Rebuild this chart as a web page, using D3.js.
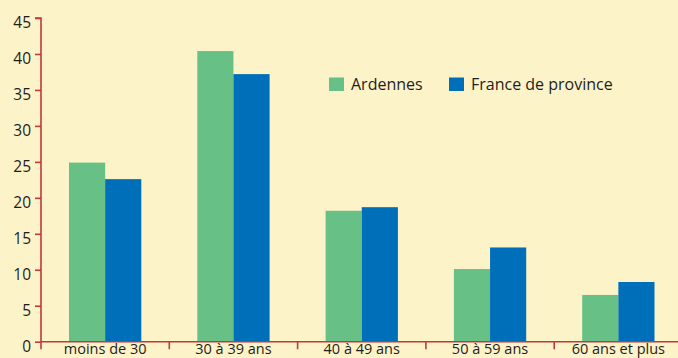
<!DOCTYPE html>
<html>
<head>
<meta charset="utf-8">
<script src="https://cdn.jsdelivr.net/npm/d3@7"></script>
<style>
  html, body { margin: 0; padding: 0; background: #fdf3c8; }
  svg { display: block; }
  text { font-family: "Open Sans", sans-serif; fill: #1e1e1e; }
</style>
</head>
<body>
<svg id="chart" width="678" height="358"></svg>
<script>
// Age groups and shares (%) for each territory
const categories = ["moins de 30", "30 à 39 ans", "40 à 49 ans", "50 à 59 ans", "60 ans et plus"];
const seriesNames = ["Ardennes", "France de province"];
const ardennes = [24.9, 40.4, 18.2, 10.1, 6.5];
const franceProvince = [22.6, 37.2, 18.7, 13.1, 8.3];
const yTicks = [0, 5, 10, 15, 20, 25, 30, 35, 40, 45];
const colors = ["#67c085", "#006fb9"];

const seriesValues = [ardennes, franceProvince];
const rows = categories.map((c, i) => ({
  cat: c,
  values: seriesNames.map((s, j) => ({ key: s, value: seriesValues[j][i] }))
}));

const svg = d3.select("#chart");
const axisColor = "#c0393b";

const x0 = d3.scaleBand().domain(categories).range([41, 682.5]).paddingInner(0).paddingOuter(0);
const groupPad = 28;
const x1 = d3.scaleBand().domain(seriesNames).range([groupPad, x0.bandwidth() - groupPad]).padding(0);
const y = d3.scaleLinear().domain([0, 45]).range([341.7, 18]);
const color = d3.scaleOrdinal().domain(seriesNames).range(colors);

// Bars
const groups = svg.append("g").selectAll("g").data(rows).join("g")
  .attr("transform", d => `translate(${x0(d.cat)},0)`);
groups.selectAll("rect").data(d => d.values).join("rect")
  .attr("x", d => x1(d.key))
  .attr("width", x1.bandwidth())
  .attr("y", d => y(d.value))
  .attr("height", d => y(0) - y(d.value))
  .attr("fill", d => color(d.key));

// Y axis
const yAxis = svg.append("g").attr("transform", "translate(41,0)")
  .call(d3.axisLeft(y).tickValues(yTicks).tickSize(6).tickPadding(4).tickFormat(d3.format("d")));
yAxis.select(".domain").attr("stroke", axisColor).attr("stroke-width", 1.6).attr("d", `M-6,${y(45)}H0V${y(0)}`);
yAxis.selectAll(".tick line").attr("stroke", axisColor).attr("stroke-width", 1.6);
yAxis.selectAll(".tick text").attr("font-size", 15.5).attr("font-family", "'Open Sans', sans-serif")
  .attr("fill", "#1e1e1e").attr("dy", "0.62em");

// X axis: baseline, separators between groups, labels
const xAxisG = svg.append("g");
xAxisG.append("line")
  .attr("x1", 41).attr("x2", 678).attr("y1", y(0)).attr("y2", y(0))
  .attr("stroke", axisColor).attr("stroke-width", 1.6);
const bounds = categories.map(c => x0(c));
xAxisG.selectAll("line.sep").data(bounds).join("line").attr("class", "sep")
  .attr("x1", d => d).attr("x2", d => d)
  .attr("y1", y(0)).attr("y2", y(0) + 7.5)
  .attr("stroke", axisColor).attr("stroke-width", 1.6);
xAxisG.selectAll("text").data(categories).join("text")
  .attr("x", d => x0(d) + x0.bandwidth() / 2)
  .attr("y", 354)
  .attr("text-anchor", "middle")
  .attr("font-size", 14.5)
  .text(d => d);

// Legend
const legendItems = [
  { key: "Ardennes", x: 329 },
  { key: "France de province", x: 449 }
];
const legend = svg.append("g").selectAll("g").data(legendItems).join("g")
  .attr("transform", d => `translate(${d.x},77.5)`);
legend.append("rect").attr("width", 15).attr("height", 13.5).attr("fill", d => color(d.key));
legend.append("text").attr("x", 22).attr("y", 12.5).attr("font-size", 16).text(d => d.key);
</script>
</body>
</html>
